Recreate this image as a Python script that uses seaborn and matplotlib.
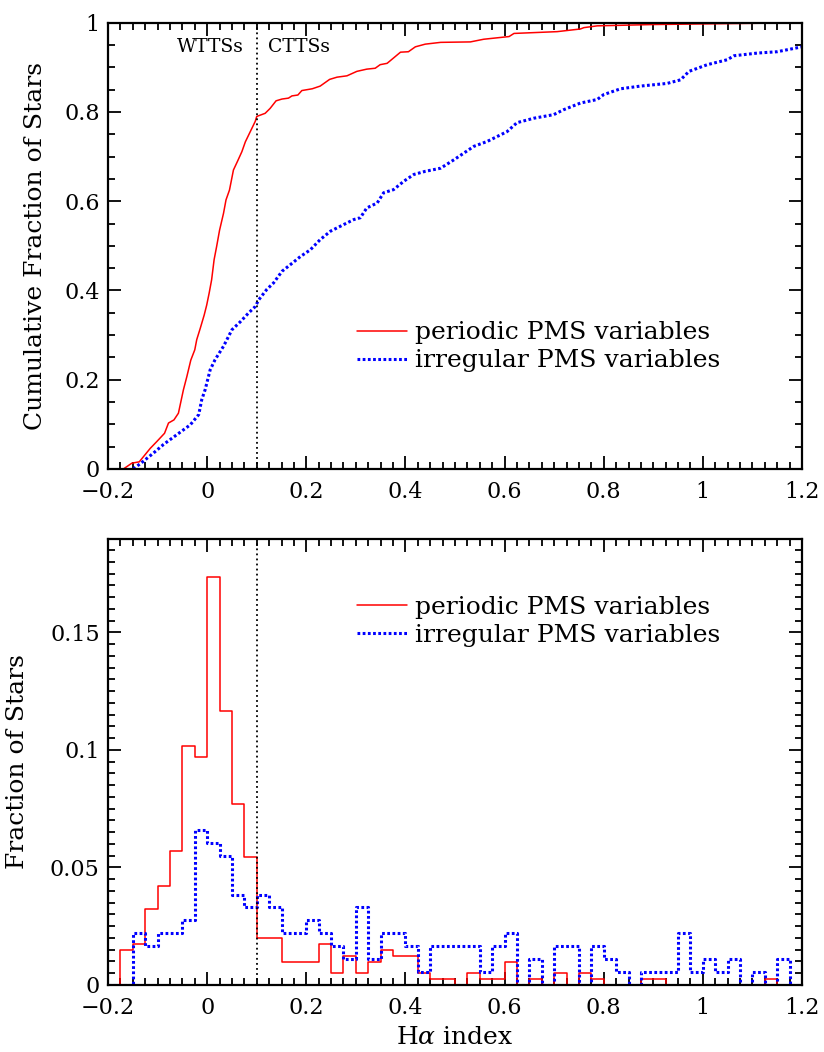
import numpy as np
import pandas as pd
import matplotlib
matplotlib.use("Agg")
import matplotlib.pyplot as plt
from matplotlib.ticker import MultipleLocator, FuncFormatter
import seaborn as sns

# ---------------- data ----------------
# cumulative distributions (H-alpha index, cumulative fraction)
periodic_cum_x = [-0.169, -0.152, -0.137, -0.115, -0.102, -0.086, -0.078, -0.067, -0.058, -0.048,
                  -0.041, -0.033, -0.025, -0.021, -0.014, -0.006, -0.001, 0.004, 0.009, 0.014,
                  0.019, 0.025, 0.033, 0.038, 0.045, 0.053, 0.061, 0.070, 0.077, 0.087,
                  0.097, 0.100, 0.117, 0.127, 0.139, 0.151, 0.164, 0.171, 0.183, 0.191,
                  0.212, 0.228, 0.247, 0.262, 0.282, 0.302, 0.322, 0.339, 0.349, 0.363,
                  0.376, 0.390, 0.406, 0.420, 0.440, 0.471, 0.531, 0.558, 0.609, 0.619,
                  0.706, 0.753, 0.760, 0.787, 0.902, 1.2]
periodic_cum_y = [0.0, 0.013, 0.016, 0.046, 0.061, 0.080, 0.103, 0.110, 0.125, 0.177,
                  0.207, 0.244, 0.267, 0.290, 0.315, 0.345, 0.367, 0.394, 0.424, 0.469,
                  0.498, 0.535, 0.573, 0.603, 0.625, 0.670, 0.689, 0.711, 0.733, 0.756,
                  0.779, 0.790, 0.797, 0.808, 0.825, 0.829, 0.831, 0.836, 0.838, 0.848,
                  0.852, 0.858, 0.873, 0.878, 0.881, 0.891, 0.896, 0.898, 0.906, 0.909,
                  0.921, 0.934, 0.935, 0.946, 0.952, 0.956, 0.957, 0.963, 0.969, 0.976,
                  0.980, 0.986, 0.989, 0.993, 0.996, 1.0]

irregular_cum_x = [-0.149, -0.129, -0.108, -0.088, -0.061, -0.034, -0.017, -0.011, -0.004, 0.006,
                   0.016, 0.033, 0.050, 0.067, 0.083, 0.097, 0.104, 0.120, 0.134, 0.151,
                   0.168, 0.188, 0.208, 0.228, 0.249, 0.276, 0.296, 0.309, 0.322, 0.343,
                   0.356, 0.376, 0.397, 0.417, 0.440, 0.471, 0.498, 0.538, 0.565, 0.605,
                   0.625, 0.659, 0.699, 0.719, 0.753, 0.787, 0.800, 0.834, 0.874, 0.928,
                   0.955, 0.972, 1.009, 1.049, 1.063, 1.110, 1.150, 1.2]
irregular_cum_y = [0.0, 0.017, 0.036, 0.055, 0.077, 0.099, 0.122, 0.155, 0.178, 0.222,
                   0.245, 0.275, 0.312, 0.330, 0.349, 0.364, 0.379, 0.402, 0.417, 0.443,
                   0.458, 0.476, 0.491, 0.514, 0.533, 0.548, 0.559, 0.563, 0.585, 0.596,
                   0.619, 0.626, 0.645, 0.660, 0.667, 0.674, 0.693, 0.723, 0.734, 0.756,
                   0.776, 0.786, 0.794, 0.805, 0.820, 0.828, 0.839, 0.852, 0.858, 0.864,
                   0.872, 0.891, 0.906, 0.917, 0.926, 0.932, 0.935, 0.946]

# histogram: bins of width 0.025 from -0.2 to 1.2
bin_width = 0.025
bin_edges = [round(float(v), 4) for v in np.arange(-0.2, 1.2 + bin_width / 2, bin_width)]
bin_centers = [round(e + bin_width / 2, 4) for e in bin_edges[:-1]]

periodic_frac = [0.0, 0.0149, 0.0174, 0.0322, 0.0422, 0.0571, 0.1017, 0.0968, 0.1737, 0.1166,
                 0.0769, 0.0546, 0.0199, 0.0199, 0.0099, 0.0099, 0.0099, 0.0174, 0.0050, 0.0124,
                 0.0050, 0.0099, 0.0149, 0.0124, 0.0124, 0.0050, 0.0025, 0.0025, 0.0, 0.0050,
                 0.0025, 0.0025, 0.0099, 0.0, 0.0025, 0.0, 0.0050, 0.0, 0.0050, 0.0025,
                 0.0, 0.0, 0.0, 0.0025, 0.0025, 0.0, 0.0, 0.0, 0.0, 0.0,
                 0.0, 0.0, 0.0, 0.0025, 0.0, 0.0]
irregular_frac = [0.0, 0.0, 0.022, 0.0165, 0.022, 0.022, 0.0275, 0.066, 0.0604, 0.055,
                  0.0385, 0.033, 0.0385, 0.033, 0.022, 0.022, 0.0275, 0.022, 0.0165, 0.011,
                  0.033, 0.011, 0.022, 0.022, 0.0165, 0.0055, 0.0165, 0.0165, 0.0165, 0.0165,
                  0.0055, 0.0165, 0.022, 0.0, 0.011, 0.0, 0.0165, 0.0165, 0.0, 0.0165,
                  0.011, 0.0055, 0.0, 0.0055, 0.0055, 0.0055, 0.022, 0.0055, 0.011, 0.0055,
                  0.011, 0.0, 0.0055, 0.0, 0.011, 0.0]

series_labels = ["periodic PMS variables", "irregular PMS variables"]
divider_x = 0.1
region_labels = ["WTTSs", "CTTSs"]

# ---------------- style ----------------
sns.set_style("ticks")
plt.rcParams["font.family"] = ["DejaVu Serif"]
plt.rcParams["mathtext.fontset"] = "dejavuserif"
plt.rcParams["text.color"] = "black"
plt.rcParams["axes.labelcolor"] = "black"
plt.rcParams["xtick.color"] = "black"
plt.rcParams["ytick.color"] = "black"

RED = "#ff0000"
BLUE = "#0000ff"
red_kw = dict(color=RED, linewidth=1.1, linestyle="-")
blue_kw = dict(color=BLUE, linewidth=2.2, linestyle=(0, (0.9, 0.8)))

LABEL_FS = 18
TICK_FS = 16

fig = plt.figure(figsize=(8.24, 10.52), dpi=100)
ax1 = fig.add_axes([0.1311, 0.5542, 0.8422, 0.4242])
ax2 = fig.add_axes([0.1311, 0.0637, 0.8422, 0.4240])


def fmt(v, pos):
    v = round(v, 6) + 0.0
    return f"{v:g}".replace("-", "\u2212")


def style_axes(ax, ymajor, yminor):
    ax.xaxis.set_major_locator(MultipleLocator(0.2))
    ax.xaxis.set_minor_locator(MultipleLocator(0.025))
    ax.yaxis.set_major_locator(MultipleLocator(ymajor))
    ax.yaxis.set_minor_locator(MultipleLocator(yminor))
    ax.xaxis.set_major_formatter(FuncFormatter(fmt))
    ax.yaxis.set_major_formatter(FuncFormatter(fmt))
    ax.tick_params(which="both", direction="in", top=True, right=True,
                   labelsize=TICK_FS, width=1.3, colors="black")
    ax.tick_params(axis="x", which="both", pad=9)
    ax.tick_params(axis="y", which="both", pad=6)
    ax.tick_params(which="major", length=9.5)
    ax.tick_params(which="minor", length=4.8)
    for s in ax.spines.values():
        s.set_visible(True)
        s.set_linewidth(1.6)
        s.set_color("black")


# ---------------- top: cumulative ----------------
sns.lineplot(x=periodic_cum_x, y=periodic_cum_y, ax=ax1, sort=False, estimator=None,
             label=series_labels[0], **red_kw)
sns.lineplot(x=irregular_cum_x, y=irregular_cum_y, ax=ax1, sort=False, estimator=None,
             label=series_labels[1], **blue_kw)
ax1.axvline(divider_x, color="black", linewidth=1.3, linestyle=(0, (1, 1.8)))
ax1.set_xlim(-0.2, 1.2)
ax1.set_ylim(0, 1)
style_axes(ax1, 0.2, 0.05)
ax1.set_xlabel("")
ax1.set_ylabel("Cumulative Fraction of Stars", fontsize=LABEL_FS)
ax1.yaxis.set_label_coords(-0.088, 0.5)
ax1.text(0.074, 0.946, region_labels[0], ha="right", va="center", fontsize=13.5)
ax1.text(0.123, 0.946, region_labels[1], ha="left", va="center", fontsize=13.5)
ax1.legend(loc="upper left", bbox_to_anchor=(0.359, 0.331), frameon=False, fontsize=LABEL_FS,
           handlelength=2.0, handletextpad=0.3, labelspacing=0.2, borderpad=0,
           borderaxespad=0)

# ---------------- bottom: histogram ----------------
periodic_df = pd.DataFrame({"h": bin_centers, "w": periodic_frac})
irregular_df = pd.DataFrame({"h": bin_centers, "w": irregular_frac})
sns.histplot(data=periodic_df, x="h", weights="w", bins=bin_edges, element="step",
             fill=False, ax=ax2, **red_kw)
line_p = ax2.lines[-1]
sns.histplot(data=irregular_df, x="h", weights="w", bins=bin_edges, element="step",
             fill=False, ax=ax2, **blue_kw)
line_i = ax2.lines[-1]
ax2.axvline(divider_x, color="black", linewidth=1.3, linestyle=(0, (1, 1.8)))
ax2.set_xlim(-0.2, 1.2)
ax2.set_ylim(0, 0.1898)
style_axes(ax2, 0.05, 0.005)
ax2.set_xlabel(r"H$\alpha$ index", fontsize=LABEL_FS, labelpad=5)
ax2.set_ylabel("Fraction of Stars", fontsize=LABEL_FS)
ax2.yaxis.set_label_coords(-0.114, 0.5)
ax2.legend(handles=[line_p, line_i], labels=series_labels, loc="upper left",
           bbox_to_anchor=(0.359, 0.873), frameon=False, fontsize=LABEL_FS,
           handlelength=2.0, handletextpad=0.3, labelspacing=0.2, borderpad=0,
           borderaxespad=0)

fig.savefig("out.png", dpi=100)
